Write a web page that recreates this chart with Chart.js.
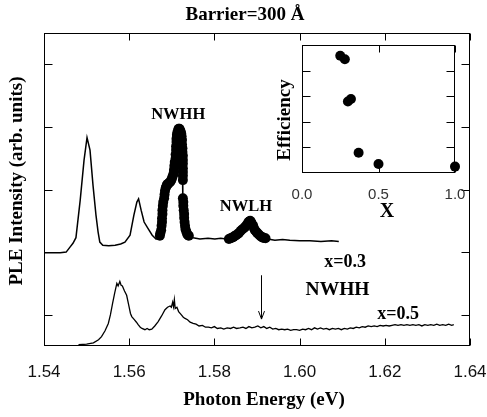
<!DOCTYPE html>
<html>
<head>
<meta charset="utf-8">
<script src="https://cdn.jsdelivr.net/npm/chart.js@4.4.0/dist/chart.umd.min.js"></script>
<style>
  html, body { margin: 0; padding: 0; background: #fff; }
  #wrap { position: relative; width: 487px; height: 417px; }
  #wrap canvas { position: absolute; left: 0; top: 0; }
</style>
</head>
<body>
<div id="wrap">
  <canvas id="main" width="487" height="417"></canvas>
  <canvas id="inset" width="487" height="417"></canvas>
</div>
<script>
// Tick positions
const energyTicks = [1.54, 1.56, 1.58, 1.60, 1.62, 1.64];
const intensityTicks = [0.5, 1.5, 2.5, 3.5, 4.5];
const insetXTicks = [0, 0.5, 1.0];
const insetYTicks = [1, 2, 3, 4];

// x = 0.3 spectrum (photon energy in eV, PLE intensity in arb. units)
const upperE = [1.5400, 1.5438, 1.5452, 1.5461, 1.5468, 1.5475, 1.5485, 1.5494, 1.5501, 1.5508,
  1.5515, 1.5522, 1.5527, 1.5531, 1.5538, 1.5552, 1.5567, 1.5580, 1.5590, 1.5602,
  1.5611, 1.5618, 1.5622, 1.5628, 1.5635, 1.5644, 1.5654, 1.5663, 1.5670,
  1.5672, 1.5675, 1.5677, 1.5678, 1.5679, 1.5682, 1.5684, 1.5688, 1.5691, 1.5696,
  1.5700, 1.5704, 1.5706, 1.5709, 1.5710, 1.5711, 1.5712, 1.5715, 1.5718, 1.5722,
  1.5724, 1.5725, 1.5726, 1.5726, 1.5726, 1.5726, 1.5726, 1.5727, 1.5729, 1.5730,
  1.5732, 1.5736, 1.5740, 1.5750, 1.5766, 1.5785, 1.5801, 1.5815, 1.5827, 1.5834,
  1.5841, 1.5848, 1.5855, 1.5862, 1.5869, 1.5875, 1.5880, 1.5884, 1.5887, 1.5891,
  1.5895, 1.5900, 1.5906, 1.5912, 1.5916, 1.5925, 1.5942, 1.5960, 1.5977, 1.6000,
  1.6024, 1.6050, 1.6075, 1.6092];
const upperV = [1.49, 1.49, 1.50, 1.58, 1.64, 1.73, 2.33, 2.97, 3.33, 3.13,
  2.57, 2.09, 1.82, 1.66, 1.61, 1.60, 1.61, 1.63, 1.66, 1.77,
  2.09, 2.30, 2.35, 2.17, 1.98, 1.88, 1.77, 1.71, 1.74,
  1.76, 1.85, 1.98, 2.11, 2.24, 2.36, 2.48, 2.56, 2.59, 2.62,
  2.67, 2.75, 2.88, 3.00, 3.13, 3.26, 3.37, 3.45, 3.47, 3.40,
  3.29, 3.16, 3.04, 2.91, 2.78, 2.65, 2.36, 2.24, 2.11, 1.98,
  1.87, 1.79, 1.76, 1.73, 1.71, 1.72, 1.71, 1.72, 1.71, 1.71,
  1.73, 1.76, 1.79, 1.84, 1.88, 1.93, 1.98, 2.00, 1.96, 1.92,
  1.85, 1.81, 1.77, 1.74, 1.73, 1.71, 1.69, 1.70, 1.69, 1.68,
  1.68, 1.67, 1.68, 1.67];

// filled circles marking the NWHH and NWLH peaks of x = 0.3
const nwhhE = [1.5672, 1.5673, 1.5675, 1.5676, 1.5677, 1.5677, 1.5678, 1.5678, 1.5679, 1.5680,
  1.5682, 1.5683, 1.5684, 1.5686, 1.5688, 1.5689, 1.5691, 1.5693, 1.5696, 1.5698,
  1.5700, 1.5702, 1.5704, 1.5705, 1.5706, 1.5707, 1.5709, 1.5709, 1.5710, 1.5710,
  1.5711, 1.5711, 1.5712, 1.5713, 1.5715, 1.5716, 1.5718, 1.5720, 1.5722, 1.5723,
  1.5724, 1.5724, 1.5725, 1.5725, 1.5726, 1.5726, 1.5726, 1.5726, 1.5726, 1.5726,
  1.5726, 1.5726, 1.5727, 1.5727, 1.5728, 1.5729, 1.5729, 1.5730, 1.5731, 1.5732,
  1.5734, 1.5736, 1.5738, 1.5740];
const nwhhV = [1.76, 1.80, 1.85, 1.92, 1.98, 2.04, 2.11, 2.17, 2.24, 2.30,
  2.36, 2.42, 2.48, 2.53, 2.56, 2.58, 2.59, 2.60, 2.62, 2.64,
  2.67, 2.71, 2.75, 2.81, 2.88, 2.94, 3.00, 3.06, 3.13, 3.19,
  3.26, 3.31, 3.37, 3.41, 3.45, 3.47, 3.47, 3.44, 3.40, 3.35,
  3.29, 3.22, 3.16, 3.10, 3.04, 2.97, 2.91, 2.84, 2.78, 2.72,
  2.65, 2.36, 2.30, 2.24, 2.17, 2.11, 2.05, 1.98, 1.92, 1.87,
  1.83, 1.79, 1.77, 1.76];
const nwlhE = [1.5834, 1.5838, 1.5841, 1.5845, 1.5848, 1.5851, 1.5855, 1.5858, 1.5862, 1.5865,
  1.5869, 1.5872, 1.5875, 1.5878, 1.5880, 1.5882, 1.5884, 1.5886, 1.5887, 1.5889,
  1.5891, 1.5893, 1.5895, 1.5898, 1.5900, 1.5903, 1.5906, 1.5909, 1.5912, 1.5914,
  1.5916, 1.5920];
const nwlhV = [1.71, 1.72, 1.73, 1.74, 1.76, 1.77, 1.79, 1.81, 1.84, 1.86,
  1.88, 1.90, 1.93, 1.95, 1.98, 1.99, 2.00, 1.98, 1.96, 1.94,
  1.92, 1.88, 1.85, 1.83, 1.81, 1.79, 1.77, 1.75, 1.74, 1.73,
  1.73, 1.72];

// x = 0.5 spectrum
const lowerE = [1.5481, 1.5500, 1.5516, 1.5528, 1.5535, 1.5543, 1.5551, 1.5556, 1.5561, 1.5566,
  1.5571, 1.5574, 1.5578, 1.5581, 1.5584, 1.5589, 1.5594, 1.5599, 1.5603, 1.5606,
  1.5612, 1.5617, 1.5621, 1.5626, 1.5630, 1.5637, 1.5642, 1.5647, 1.5653, 1.5660,
  1.5668, 1.5676, 1.5684, 1.5690, 1.5696, 1.5699, 1.5702, 1.5704, 1.5706, 1.5708,
  1.5712, 1.5716, 1.5722, 1.5727, 1.5731, 1.5737, 1.5743, 1.5750, 1.5757, 1.5764,
  1.5772, 1.5779, 1.5786, 1.5793, 1.5800, 1.5807, 1.5815, 1.5822, 1.5830, 1.5838,
  1.5845, 1.5852, 1.5860, 1.5867, 1.5874, 1.5881, 1.5888, 1.5895, 1.5902, 1.5909,
  1.5916, 1.5923, 1.5930, 1.5937, 1.5944, 1.5951, 1.5958, 1.5965, 1.5972, 1.5979,
  1.5986, 1.5993, 1.6000, 1.6007, 1.6014, 1.6021, 1.6028, 1.6035, 1.6042, 1.6049,
  1.6056, 1.6063, 1.6070, 1.6077, 1.6084, 1.6091, 1.6098, 1.6105, 1.6112, 1.6119,
  1.6126, 1.6133, 1.6140, 1.6147, 1.6154, 1.6161, 1.6168, 1.6175, 1.6182, 1.6189,
  1.6196, 1.6203, 1.6210, 1.6217, 1.6224, 1.6231, 1.6238, 1.6245, 1.6252, 1.6259,
  1.6266, 1.6273, 1.6280, 1.6287, 1.6294, 1.6301, 1.6308, 1.6315, 1.6322, 1.6329,
  1.6336, 1.6343, 1.6350, 1.6357, 1.6362];
const lowerV = [0.02, 0.03, 0.05, 0.10, 0.15, 0.24, 0.36, 0.50, 0.68, 0.85,
  1.00, 0.96, 1.03, 0.97, 0.96, 0.88, 0.81, 0.65, 0.52, 0.47,
  0.42, 0.38, 0.34, 0.30, 0.28, 0.26, 0.28, 0.26, 0.27, 0.32,
  0.39, 0.48, 0.58, 0.62, 0.64, 0.62, 0.70, 0.63, 0.74, 0.60,
  0.62, 0.55, 0.50, 0.46, 0.44, 0.42, 0.38, 0.36, 0.35, 0.32,
  0.33, 0.30, 0.30, 0.29, 0.31, 0.28, 0.29, 0.27, 0.29, 0.28,
  0.30, 0.28, 0.29, 0.30, 0.28, 0.31, 0.29, 0.30, 0.32, 0.29,
  0.31, 0.28, 0.30, 0.27, 0.28, 0.26, 0.27, 0.26, 0.27, 0.25,
  0.26, 0.26, 0.25, 0.27, 0.26, 0.28, 0.26, 0.29, 0.27, 0.29,
  0.27, 0.28, 0.26, 0.28, 0.27, 0.28, 0.26, 0.28, 0.27, 0.29,
  0.28, 0.30, 0.29, 0.31, 0.30, 0.32, 0.31, 0.32, 0.31, 0.33,
  0.32, 0.33, 0.32, 0.33, 0.34, 0.33, 0.34, 0.33, 0.34, 0.33,
  0.34, 0.33, 0.34, 0.32, 0.34, 0.33, 0.34, 0.33, 0.35, 0.33,
  0.34, 0.33, 0.35, 0.33, 0.34];

// NWHH arrow on x = 0.5 (energy, start and end intensity)
const arrowE = 1.5909;
const arrowV = [1.13, 0.43];

// inset: efficiency vs composition x
const insetX = [0.25, 0.28, 0.30, 0.32, 0.37, 0.50, 1.00];
const insetEff = [4.58, 4.44, 2.79, 2.89, 0.79, 0.35, 0.25];

const SERIF = '"Liberation Serif", "Times New Roman", serif';
const SANS = '"Liberation Sans", Arial, sans-serif';

const pts = (xs, ys) => xs.map((x, i) => ({ x, y: ys[i] }));

function text(ctx, s, x, y, font, rot) {
    ctx.save();
    ctx.translate(x, y);
    if (rot) ctx.rotate(rot);
    ctx.font = font;
    ctx.fillStyle = '#000';
    ctx.textAlign = 'center';
    ctx.textBaseline = 'middle';
    ctx.fillText(s, 0, 0);
    ctx.restore();
}

// box round the plot area with inward tick marks on all four sides
const frameTicks = {
    id: 'frameTicks',
    afterDatasetsDraw(chart, args, opts) {
        const { ctx, chartArea: a, scales } = chart;
        const len = opts.len || 7;
        const L = Math.round(a.left) + 0.5, R = Math.round(a.right) - 0.5;
        const T = Math.round(a.top) + 0.5, B = Math.round(a.bottom) - 0.5;
        ctx.save();
        ctx.strokeStyle = '#000';
        ctx.lineWidth = 1;
        ctx.strokeRect(L, T, R - L, B - T);
        ctx.beginPath();
        scales.x.ticks.forEach(t => {
            const px = Math.round(scales.x.getPixelForValue(t.value)) + 0.5;
            ctx.moveTo(px, B); ctx.lineTo(px, B - len);
            ctx.moveTo(px, T); ctx.lineTo(px, T + len);
        });
        scales.y.ticks.forEach(t => {
            const py = Math.round(scales.y.getPixelForValue(t.value)) + 0.5;
            ctx.moveTo(L, py); ctx.lineTo(L + len + 1, py);
            ctx.moveTo(R, py); ctx.lineTo(R - len - 1, py);
        });
        ctx.stroke();
        ctx.restore();
    }
};

// labels, arrow and titles of the main plot
const mainLabels = {
    id: 'mainLabels',
    afterDraw(chart) {
        const { ctx, scales: { x, y } } = chart;
        const at = (e, v) => [x.getPixelForValue(e), y.getPixelForValue(v)];
        const bold = sz => `bold ${sz}px ${SERIF}`;

        text(ctx, 'NWHH', ...at(1.5715, 3.69), bold(16.5));
        text(ctx, 'NWLH', ...at(1.5874, 2.22), bold(16.5));
        text(ctx, 'x=0.3', ...at(1.6107, 1.33), bold(18));
        text(ctx, 'NWHH', ...at(1.6089, 0.89), bold(19.5));
        text(ctx, 'x=0.5', ...at(1.6231, 0.50), bold(18));

        const ax = Math.round(x.getPixelForValue(arrowE)) + 0.5;
        const y0 = y.getPixelForValue(arrowV[0]), y1 = y.getPixelForValue(arrowV[1]);
        ctx.save();
        ctx.strokeStyle = '#000';
        ctx.lineWidth = 1;
        ctx.beginPath();
        ctx.moveTo(ax, y0); ctx.lineTo(ax, y1);
        ctx.moveTo(ax - 3, y1 - 8); ctx.lineTo(ax, y1); ctx.lineTo(ax + 3, y1 - 8);
        ctx.stroke();
        ctx.restore();

        text(ctx, 'Barrier=300 Å', 245, 15, bold(19));
        text(ctx, 'PLE Intensity (arb. units)', 17, 181, bold(19), -Math.PI / 2);
        text(ctx, 'Photon Energy (eV)', 264, 400, bold(19));
    }
};

new Chart(document.getElementById('main'), {
    type: 'scatter',
    data: {
        datasets: [
            { label: 'NWHH', data: pts(nwhhE, nwhhV), showLine: false,
              pointRadius: 5, pointBackgroundColor: '#000', pointBorderWidth: 0 },
            { label: 'NWLH', data: pts(nwlhE, nwlhV), showLine: false,
              pointRadius: 5, pointBackgroundColor: '#000', pointBorderWidth: 0 },
            { label: 'x=0.3', data: pts(upperE, upperV), showLine: true,
              borderColor: '#000', borderWidth: 1.5, pointRadius: 0 },
            { label: 'x=0.5', data: pts(lowerE, lowerV), showLine: true,
              borderColor: '#000', borderWidth: 1.3, pointRadius: 0 },
        ]
    },
    options: {
        responsive: false, animation: false, events: [],
        layout: { padding: { top: 33, right: 17, left: 0, bottom: 0 } },
        plugins: { legend: { display: false }, tooltip: { enabled: false }, frameTicks: { len: 7 } },
        scales: {
            x: {
                type: 'linear', min: 1.54, max: 1.64,
                grid: { display: false }, border: { display: false },
                afterBuildTicks: s => { s.ticks = energyTicks.map(v => ({ value: v })); },
                ticks: { padding: 8, color: '#111', maxRotation: 0, autoSkip: false,
                         font: { family: SANS, size: 17 }, callback: v => v.toFixed(2) },
                afterFit: s => { s.height = 71; s.paddingLeft = 0; s.paddingRight = 0; }
            },
            y: {
                type: 'linear', min: 0, max: 5,
                grid: { display: false }, border: { display: false },
                afterBuildTicks: s => { s.ticks = intensityTicks.map(v => ({ value: v })); },
                ticks: { display: false },
                afterFit: s => { s.width = 44; }
            }
        }
    },
    plugins: [frameTicks, mainLabels]
});

// inset
const insetDecor = {
    id: 'insetDecor',
    beforeDraw(chart) {
        const { ctx, chartArea: a } = chart;
        ctx.save();
        ctx.fillStyle = '#fff';
        ctx.fillRect(a.left, a.top, a.width, a.height);
        ctx.restore();
    },
    afterDraw(chart) {
        const { ctx } = chart;
        text(ctx, 'Efficiency', 285, 120, `bold 19px ${SERIF}`, -Math.PI / 2);
        text(ctx, 'X', 387, 212, `bold 20px ${SERIF}`);
    }
};

new Chart(document.getElementById('inset'), {
    type: 'scatter',
    data: {
        datasets: [
            { label: 'Efficiency', data: pts(insetX, insetEff), clip: false,
              pointRadius: 5, pointBackgroundColor: '#000', pointBorderWidth: 0 }
        ]
    },
    options: {
        responsive: false, animation: false, events: [],
        layout: { padding: { top: 45, right: 32, left: 0, bottom: 0 } },
        plugins: { legend: { display: false }, tooltip: { enabled: false }, frameTicks: { len: 7 } },
        scales: {
            x: {
                type: 'linear', min: 0, max: 1,
                grid: { display: false }, border: { display: false },
                afterBuildTicks: s => { s.ticks = insetXTicks.map(v => ({ value: v })); },
                ticks: { padding: 5, color: '#333', maxRotation: 0, autoSkip: false,
                         font: { family: SANS, size: 15 }, callback: v => v.toFixed(1) },
                afterFit: s => { s.height = 244; s.paddingLeft = 0; s.paddingRight = 0; }
            },
            y: {
                type: 'linear', min: 0, max: 5,
                grid: { display: false }, border: { display: false },
                afterBuildTicks: s => { s.ticks = insetYTicks.map(v => ({ value: v })); },
                ticks: { display: false },
                afterFit: s => { s.width = 302; }
            }
        }
    },
    plugins: [insetDecor, frameTicks]
});
</script>
</body>
</html>
